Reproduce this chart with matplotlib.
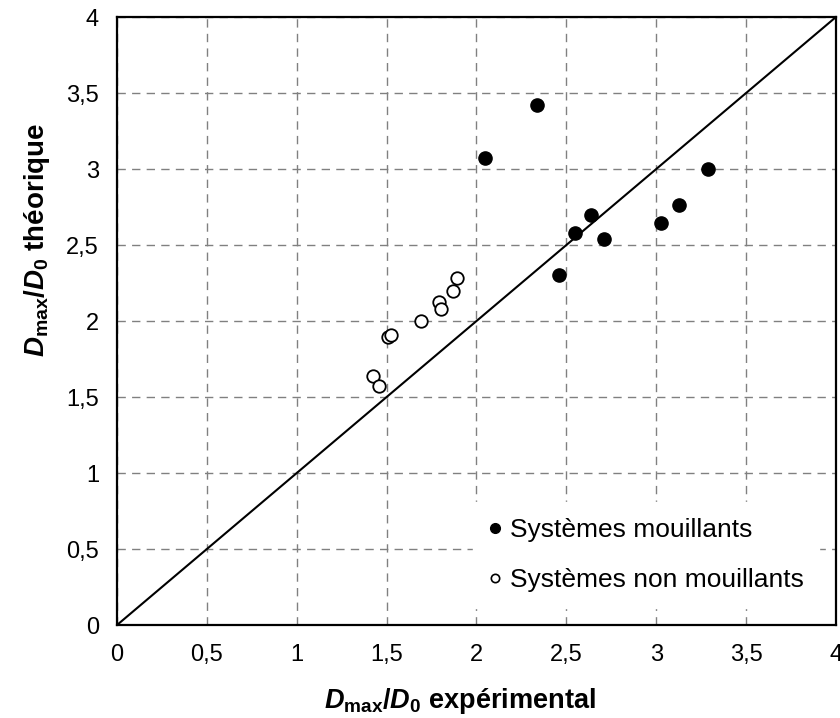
import matplotlib
matplotlib.use('Agg')
import matplotlib.pyplot as plt
from matplotlib.lines import Line2D

plt.rcParams['font.family'] = ['Liberation Sans', 'DejaVu Sans']
plt.rcParams['mathtext.fontset'] = 'custom'
plt.rcParams['mathtext.rm'] = 'Liberation Sans:bold'
plt.rcParams['mathtext.bf'] = 'Liberation Sans:bold'
plt.rcParams['mathtext.it'] = 'Liberation Sans:bold:italic'
plt.rcParams['mathtext.bfit'] = 'Liberation Sans:bold:italic'

# wetting systems (filled)
wet_x = [2.05, 2.335, 2.46, 2.55, 2.635, 2.71, 3.025, 3.125, 3.29]
wet_y = [3.07, 3.42, 2.30, 2.58, 2.70, 2.54, 2.645, 2.765, 3.00]

# non-wetting systems (open)
nonwet_x = [1.425, 1.46, 1.505, 1.525, 1.69, 1.79, 1.80, 1.87, 1.89]
nonwet_y = [1.635, 1.57, 1.895, 1.91, 2.00, 2.125, 2.08, 2.20, 2.28]

# y = x reference line
ref_x = [0, 4]
ref_y = [0, 4]

ticks = [0, 0.5, 1, 1.5, 2, 2.5, 3, 3.5, 4]
tick_labels = ['0', '0,5', '1', '1,5', '2', '2,5', '3', '3,5', '4']

fig = plt.figure(figsize=(8.4, 7.18), dpi=100)
ax = fig.add_axes([0.1393, 0.1295, 0.8559, 0.8468])

ax.plot(ref_x, ref_y, color='black', lw=1.5, zorder=3)
ax.plot(wet_x, wet_y, 'o', color='black', ms=9.5, zorder=4)
ax.plot(nonwet_x, nonwet_y, 'o', mfc='white', mec='black', ms=9, mew=1.3, zorder=4)

ax.set_xlim(0, 4)
ax.set_ylim(0, 4)
ax.set_xticks(ticks)
ax.set_xticklabels(tick_labels)
ax.set_yticks(ticks)
ax.set_yticklabels(tick_labels)
ax.tick_params(length=0, labelsize=17)
ax.tick_params(axis='x', pad=14)
ax.tick_params(axis='y', pad=13)
ax.grid(True, color='#808080', ls=(0, (6, 4.5)), lw=1.0)
ax.set_axisbelow(True)
for s in ax.spines.values():
    s.set_linewidth(1.6)

ax.set_xlabel(r'$\mathit{D}_{\mathrm{max}}/\mathit{D}_{\mathrm{0}}$ expérimental',
              fontsize=19.5, fontweight='bold')
ax.xaxis.set_label_coords(0.477, -0.1)
ax.set_ylabel(r'$\mathit{D}_{\mathrm{max}}/\mathit{D}_{\mathrm{0}}$ théorique',
              fontsize=20, fontweight='bold')
ax.yaxis.set_label_coords(-0.09, 0.633)

handles = [
    Line2D([], [], ls='none', marker='o', color='black', ms=7),
    Line2D([], [], ls='none', marker='o', mfc='white', mec='black', ms=6, mew=1.2),
]
leg = ax.legend(handles, ['Systèmes mouillants', 'Systèmes non mouillants'],
                loc='center', bbox_to_anchor=(0.736, 0.115), fontsize=19,
                frameon=True, fancybox=False, framealpha=1, edgecolor='white',
                handlelength=0.5, handletextpad=0.3, labelspacing=1.0,
                borderpad=0.6)

fig.savefig('out.png', dpi=100)
